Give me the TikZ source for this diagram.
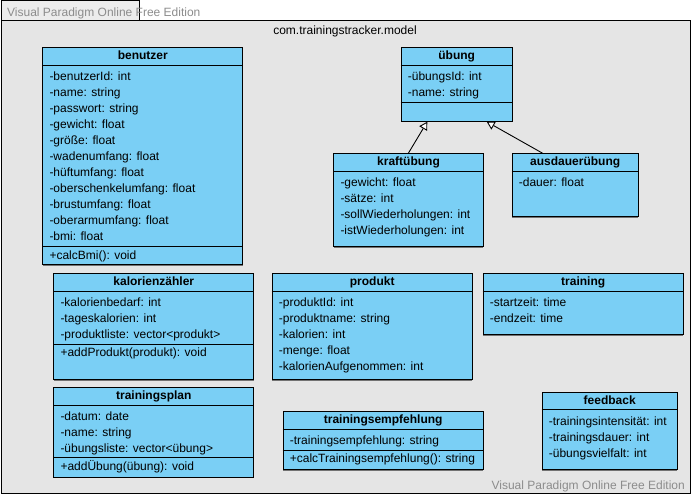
\documentclass[tikz,border=0pt]{standalone}
\usepackage{fontspec}
\setmainfont{Liberation Sans}
\usetikzlibrary{arrows.meta,calc,shadows}

\definecolor{classfill}{RGB}{122,207,245}
\definecolor{pkgfill}{RGB}{229,229,229}
\definecolor{tabfill}{RGB}{236,236,236}
\definecolor{marktext}{RGB}{140,140,140}

\tikzset{
  classbox/.style={rectangle, draw=black, line width=1pt, fill=classfill, inner sep=0pt,
    drop shadow={shadow xshift=0pt, shadow yshift=-1.2pt, fill=black!55, opacity=1}},
  classline/.style={draw=black, line width=1pt},
  titletext/.style={inner sep=0pt, font=\fontsize{12}{14}\selectfont\bfseries},
  membertext/.style={inner sep=0pt, font=\fontsize{12}{14}\selectfont},
  pkgbox/.style={rectangle, draw=black, line width=1pt, fill=pkgfill, inner sep=0pt},
  pkgtab/.style={rectangle, draw=black, line width=1pt, fill=tabfill, inner sep=0pt},
  marktext/.style={inner sep=0pt, text=marktext, font=\fontsize{12}{14}\selectfont},
  generalization/.style={draw=black, line width=0.9pt,
    -{Triangle[length=8pt, width=9pt, fill=white, line width=0.9pt]}},
}

% #1 name, #2 x, #3 y, #4 width, #5 height, #6 title,
% #7 attributes, #8 separator offset (empty: none), #9 operation (empty: none)
\newcommand{\umlclass}[9]{%
  \node[classbox, minimum width=#4pt, minimum height=#5pt, anchor=north west] (#1) at (#2,#3) {};
  \draw[classline] ($(#1.north west)+(0,18)$) -- ($(#1.north east)+(0,18)$);
  \node[titletext, anchor=base] (#1-title) at ($(#1.north)+(0,12.3)$) {#6};
  \foreach \t [count=\i from 0] in {#7} {
    \node[membertext, anchor=base west] (#1-attr\i) at ($(#1.north west)+(7,33.5+16*\i)$) {\t};
  }
  \def\umlsep{#8}%
  \ifx\umlsep\empty\else
    \draw[classline] ($(#1.north west)+(0,#8)$) -- ($(#1.north east)+(0,#8)$);
  \fi
  \def\umlmeth{#9}%
  \ifx\umlmeth\empty\else
    \node[membertext, anchor=base west] (#1-meth) at ($(#1.north west)+(7,#8+12.5)$) {#9};
  \fi
}

\begin{document}
\begin{tikzpicture}[x=1pt, y=-1pt]
  \useasboundingbox (0,0) rectangle (691,494);

  % package frame with its tab
  \node[pkgtab, minimum width=138pt, minimum height=20pt, anchor=north west] (pkgtab) at (0.5,0.5) {};
  \node[pkgbox, minimum width=689.5pt, minimum height=472.5pt, anchor=north west] (pkg) at (0.5,20.2) {};
  \node[membertext, anchor=base] (pkg-title) at (345,34.3) {com.trainingstracker.model};

  % classes
  \umlclass{benutzer}{42.3}{47.3}{200}{217}{benutzer}
    {-benutzerId: int, -name: string, -passwort: string, -gewicht: float, -größe: float,
     -wadenumfang: float, -hüftumfang: float, -oberschenkelumfang: float, -brustumfang: float,
     -oberarmumfang: float, -bmi: float}
    {199.4}{+calcBmi(): void}

  \umlclass{uebung}{400.7}{47.3}{111}{73.4}{übung}
    {-übungsId: int, -name: string}
    {55}{}

  \umlclass{kraft}{333.3}{153.3}{149.4}{92.7}{kraftübung}
    {-gewicht: float, -sätze: int, -sollWiederholungen: int, -istWiederholungen: int}
    {}{}

  \umlclass{ausdauer}{511.7}{153.3}{126}{62.7}{ausdauerübung}
    {-dauer: float}
    {}{}

  \umlclass{kalorien}{53.3}{273.3}{200}{105.7}{kalorienzähler}
    {-kalorienbedarf: int, -tageskalorien: int, -produktliste: vector<produkt>}
    {71}{+addProdukt(produkt): void}

  \umlclass{produkt}{271.7}{273.3}{200}{105.7}{produkt}
    {-produktId: int, -produktname: string, -kalorien: int, -menge: float, -kalorienAufgenommen: int}
    {}{}

  \umlclass{training}{482.7}{273.3}{200}{61}{training}
    {-startzeit: time, -endzeit: time}
    {}{}

  \umlclass{plan}{53.3}{387}{200}{89.7}{trainingsplan}
    {-datum: date, -name: string, -übungsliste: vector<übung>}
    {70.7}{+addÜbung(übung): void}

  \umlclass{empfehlung}{282.7}{411}{200}{58}{trainingsempfehlung}
    {-trainingsempfehlung: string}
    {39.3}{+calcTrainingsempfehlung(): string}

  \umlclass{feedback}{541.7}{391.7}{135}{77.3}{feedback}
    {-trainingsintensität: int, -trainingsdauer: int, -übungsvielfalt: int}
    {}{}

  % generalizations
  \draw[generalization] ($(kraft.north west)+(75,0)$) -- ($(uebung.south west)+(26.6,0)$);
  \draw[generalization] ($(ausdauer.north west)+(31,0)$) -- ($(uebung.south west)+(86,0)$);

  % edition marks
  \node[marktext, anchor=base west] (mark-top) at (7,16.6) {Visual Paradigm Online Free Edition};
  \node[marktext, anchor=base east] (mark-bottom) at (685,489) {Visual Paradigm Online Free Edition};
\end{tikzpicture}
\end{document}
